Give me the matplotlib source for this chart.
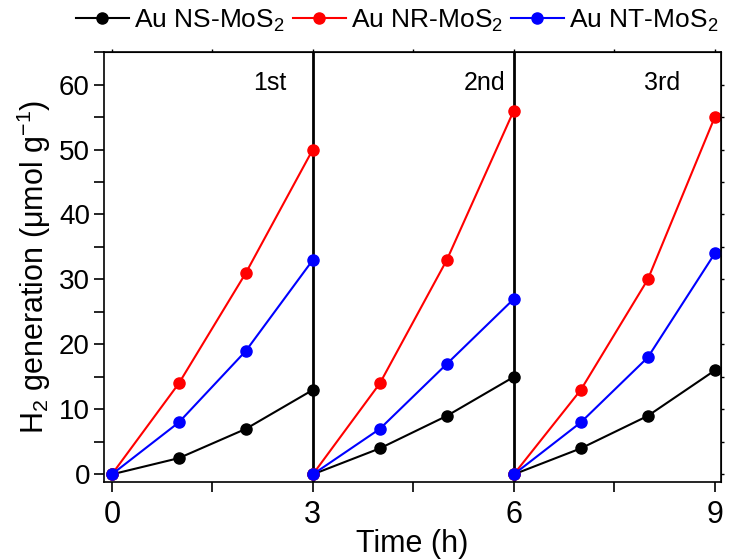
import matplotlib.pyplot as plt
from matplotlib.ticker import MultipleLocator

plt.rcParams['font.family'] = ['Liberation Sans', 'DejaVu Sans']
plt.rcParams['mathtext.fontset'] = 'custom'
plt.rcParams['mathtext.rm'] = 'Liberation Sans'

time_h = [0, 1, 2, 3, 3, 4, 5, 6, 6, 7, 8, 9]
ns_vals = [0, 2.5, 7, 13, 0, 4, 9, 15, 0, 4, 9, 16]
nr_vals = [0, 14, 31, 50, 0, 14, 33, 56, 0, 13, 30, 55]
nt_vals = [0, 8, 19, 33, 0, 7, 17, 27, 0, 8, 18, 34]
cycle_labels = ["1st", "2nd", "3rd"]
cycle_label_x = [2.36, 5.57, 8.22]

series = [
    ("Au NS-MoS$_2$", ns_vals, "black"),
    ("Au NR-MoS$_2$", nr_vals, "red"),
    ("Au NT-MoS$_2$", nt_vals, "blue"),
]

fig = plt.figure(figsize=(7.31, 5.6), dpi=100)
ax = fig.add_axes([0.142, 0.139, 0.845, 0.768])

# three cycles, each drawn as its own segment
for i in range(3):
    seg = slice(4 * i, 4 * i + 4)
    for label, vals, color in series:
        ax.plot(time_h[seg], vals[seg], color=color, marker='o', markersize=8,
                lw=1.5, label=label if i == 0 else None, clip_on=False)

for xv in [3, 6]:
    ax.axvline(xv, color='black', lw=2, zorder=1)

for lab, xv in zip(cycle_labels, cycle_label_x):
    ax.text(xv, 60.3, lab, ha='center', va='center', fontsize=18)

ax.set_xlim(-0.12, 9.1)
ax.set_ylim(-1.2, 65)
ax.set_xticks([0, 3, 6, 9])
ax.xaxis.set_minor_locator(MultipleLocator(1.5))
ax.yaxis.set_major_locator(MultipleLocator(10))
ax.yaxis.set_minor_locator(MultipleLocator(5))
ax.tick_params(which='both', direction='out', width=1.2)
ax.tick_params(which='major', length=7)
ax.tick_params(which='minor', length=7)
ax.tick_params(axis='x', labelsize=22, pad=6)
ax.tick_params(axis='y', labelsize=20, pad=3)
for sp in ax.spines.values():
    sp.set_linewidth(1.2)

# small ticks on top and right
top = ax.secondary_xaxis('top')
top.set_xticks([0, 1.5, 3, 4.5, 6, 7.5, 9])
top.tick_params(direction='out', length=2.5, width=1, labeltop=False)
right = ax.secondary_yaxis('right')
right.set_yticks(range(0, 65, 5))
right.tick_params(direction='out', length=2.5, width=1, labelright=False)

ax.set_xlabel("Time (h)", fontsize=22, labelpad=-1)
ax.set_ylabel("H$_2$ generation (μmol g$^{-1}$)", fontsize=22, labelpad=4)

ax.legend(loc='lower center', bbox_to_anchor=(0.475, 1.0), ncol=3, frameon=False,
          fontsize=19, handlelength=2.0, handletextpad=0.2, columnspacing=0.3,
          borderaxespad=0.3)

fig.savefig("out.png", dpi=100)
